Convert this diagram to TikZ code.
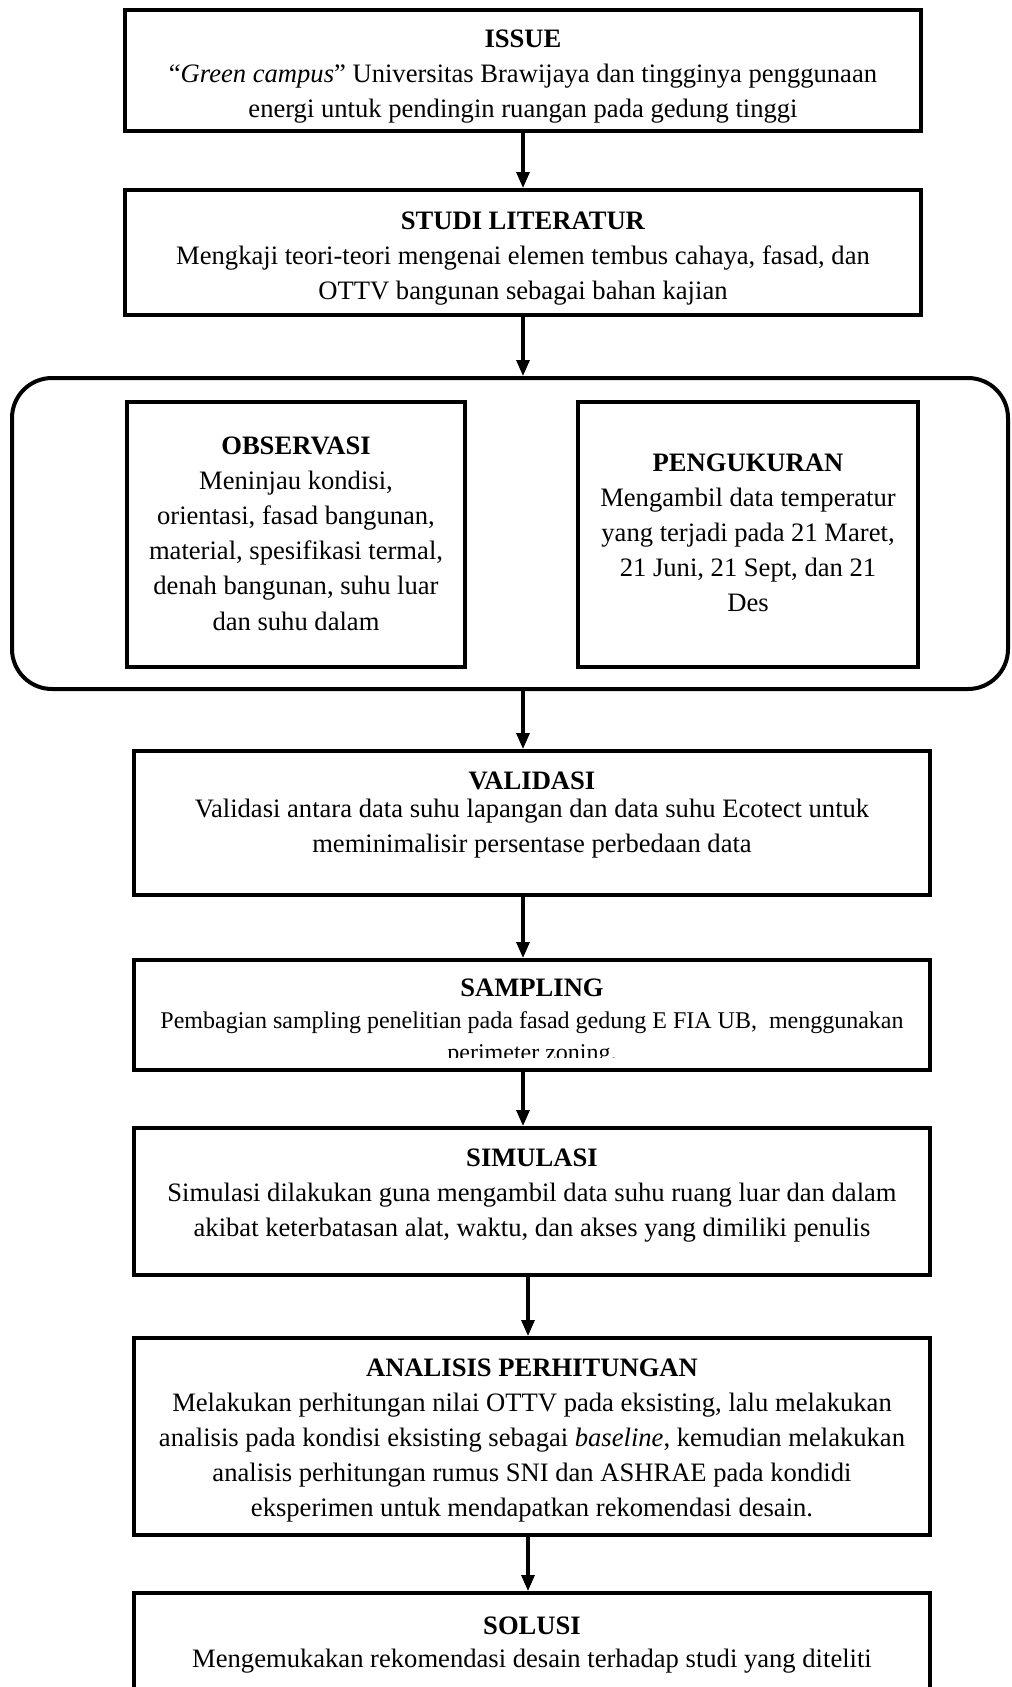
\documentclass[tikz,border=0pt]{standalone}
\usepackage{fontspec}
\setmainfont{Liberation Serif}
\usetikzlibrary{arrows.meta}

\tikzset{
  stepbox/.style={draw, line width=2pt, inner sep=0pt},
  groupbox/.style={draw, line width=2pt, rounded corners=20pt, inner sep=0pt},
  steptext/.style={align=center, anchor=north, inner sep=0pt, font=\fontsize{13.3}{17.6}\selectfont},
  flow/.style={-{Triangle[length=8pt,width=6.5pt]}, line width=1.6pt}
}

\begin{document}
\begin{tikzpicture}[x=0.5pt, y=-0.5pt]
    \useasboundingbox (0,0) rectangle (1012,1687);
    \clip (0,0) rectangle (1012,1687);
    \coordinate (axis) at (523,0);
    \coordinate (axisb) at (528,0);
    \coordinate (sampcut) at (0,1057);

    % Boxes
    \node[stepbox, minimum width=398pt, minimum height=60.5pt] (issue) at (523,70.5) {};
    \node[stepbox, minimum width=398pt, minimum height=62.5pt] (studi) at (523,252.5) {};
    \node[groupbox, minimum width=498pt, minimum height=155.5pt] (group) at (510,533.5) {};
    \node[stepbox, minimum width=169pt, minimum height=132.5pt] (obs) at (296,534.5) {};
    \node[stepbox, minimum width=170pt, minimum height=132.5pt] (ukur) at (748,534.5) {};
    \node[stepbox, minimum width=398pt, minimum height=72pt] (valid) at (532,823) {};
    \node[stepbox, minimum width=398pt, minimum height=55pt] (samp) at (532,1015) {};
    \node[stepbox, minimum width=398pt, minimum height=73.5pt] (simul) at (532,1201.5) {};
    \node[stepbox, minimum width=398pt, minimum height=98.5pt] (anal) at (532,1436.5) {};
    \node[stepbox, minimum width=398pt, minimum height=63.5pt] (solusi) at (532,1656.5) {};

    % Texts
    \node[steptext] (issuetxt) at (523,29) {\textbf{ISSUE}\\
      ``\textit{Green campus}'' Universitas Brawijaya dan tingginya penggunaan\\
      energi untuk pendingin ruangan pada gedung tinggi};
    \node[steptext] (studitxt) at (523,211) {\textbf{STUDI LITERATUR}\\
      Mengkaji teori-teori mengenai elemen tembus cahaya, fasad, dan\\
      OTTV bangunan sebagai bahan kajian};
    \node[steptext] (obstxt) at (296,436) {\textbf{OBSERVASI}\\
      Meninjau kondisi,\\ orientasi, fasad bangunan,\\ material, spesifikasi termal,\\
      denah bangunan, suhu luar\\ dan suhu dalam};
    \node[steptext] (ukurtxt) at (748,453) {\textbf{PENGUKURAN}\\
      Mengambil data temperatur\\ yang terjadi pada 21 Maret,\\ 21 Juni, 21 Sept, dan 21\\ Des};
    \node[steptext] (validtxt) at (532,771) {\textbf{VALIDASI}\\[-3.5pt]
      Validasi antara data suhu lapangan dan data suhu Ecotect untuk\\
      meminimalisir persentase perbedaan data};
    \begin{scope}
      \clip (samp.north west) rectangle (samp.east |- sampcut);
      \node[steptext, font=\fontsize{12}{16}\selectfont] (samptxt) at (532,978)
        {{\fontsize{13.3}{16}\selectfont\textbf{SAMPLING}}\\
        Pembagian sampling penelitian pada fasad gedung E FIA UB,\ \ menggunakan\\
        perimeter zoning.};
    \end{scope}
    \node[steptext] (simultxt) at (532,1148) {\textbf{SIMULASI}\\
      Simulasi dilakukan guna mengambil data suhu ruang luar dan dalam\\
      akibat keterbatasan alat, waktu, dan akses yang dimiliki penulis};
    \node[steptext] (analtxt) at (532,1358) {\textbf{ANALISIS PERHITUNGAN}\\
      Melakukan perhitungan nilai OTTV pada eksisting, lalu melakukan\\
      analisis pada kondisi eksisting sebagai \textit{baseline}, kemudian melakukan\\
      analisis perhitungan rumus SNI dan ASHRAE pada kondidi\\
      eksperimen untuk mendapatkan rekomendasi desain.};
    \node[steptext] (solusitxt) at (532,1616) {\textbf{SOLUSI}\\[-1pt]
      Mengemukakan rekomendasi desain terhadap studi yang diteliti};

    % Paths
    \draw[flow] (issue.south -| axis) -- (studi.north -| axis);
    \draw[flow] (studi.south -| axis) -- (group.north -| axis);
    \draw[flow] (group.south -| axis) -- (valid.north -| axis);
    \draw[flow] (valid.south -| axis) -- (samp.north -| axis);
    \draw[flow] (samp.south -| axis) -- (simul.north -| axis);
    \draw[flow] (simul.south -| axisb) -- (anal.north -| axisb);
    \draw[flow] (anal.south -| axisb) -- (solusi.north -| axisb);
\end{tikzpicture}
\end{document}
